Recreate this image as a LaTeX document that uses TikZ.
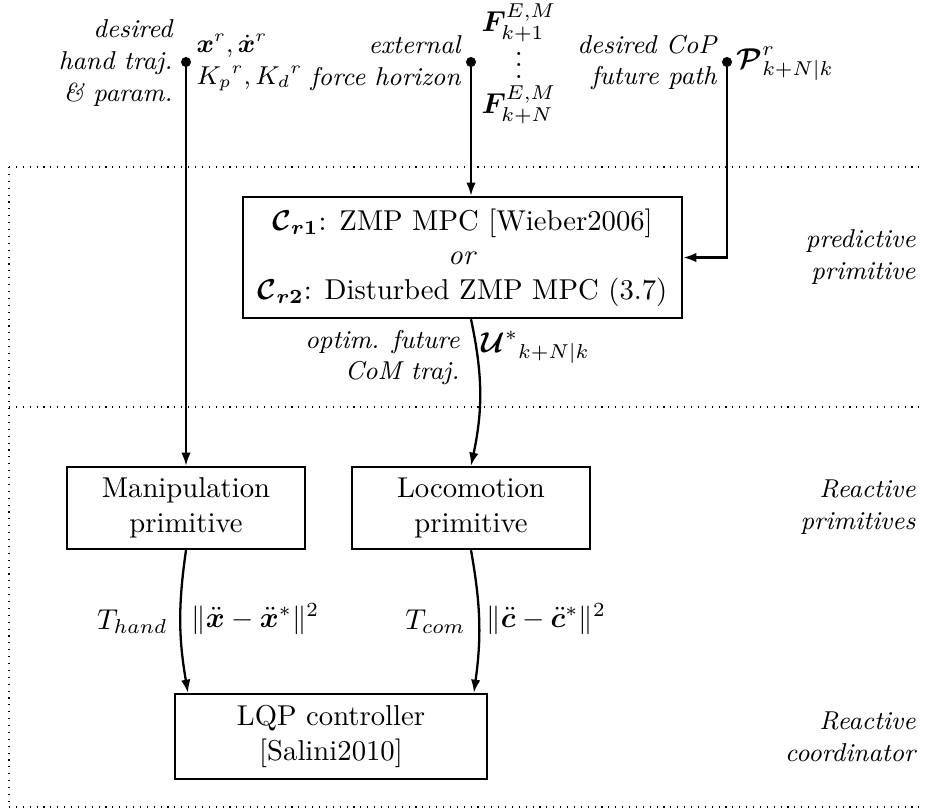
\documentclass[tikz,border=0pt]{standalone}
\usepackage{amsmath,amssymb,bm}
\usetikzlibrary{arrows.meta}
\begin{document}
\begin{tikzpicture}[x=0.3484pt,y=-0.3484pt,
  box/.style={draw,thick,align=center,inner sep=2pt},
  arr/.style={thick,-{Latex[length=4.6pt,width=3.3pt]}},
  lbl/.style={inner sep=0pt},
  lblr/.style={lbl,anchor=east,align=right,font=\small\itshape},
  sep/.style={dotted,thin},
  dot/.style={fill=black}]
\useasboundingbox (0,0) rectangle (925,809);
% dotted frame
\draw[sep] (9,167) -- (925,167);
\draw[sep] (9,407) -- (925,407);
\draw[sep] (9,807) -- (925,807);
\draw[sep] (9,167) -- (9,807);
% boxes
\node[box,minimum width=153pt,minimum height=42.2pt] (mpc) at (462.5,257.5)
  {$\bm{\mathcal{C}_{r1}}$: ZMP MPC [Wieber2006]\\ \textit{or}\\ $\bm{\mathcal{C}_{r2}}$: Disturbed ZMP MPC (3.7)};
\node[box,minimum width=82.9pt,minimum height=28.6pt] (manip) at (186,508) {Manipulation\\primitive};
\node[box,minimum width=82.9pt,minimum height=28.6pt] (loco) at (471,508) {Locomotion\\primitive};
\node[box,minimum width=108.7pt,minimum height=29.6pt] (lqp) at (331,736.5) {LQP controller\\{[Salini2010]}};
% input dots
\coordinate (hd) at (186,62);
\coordinate (fd) at (471,62);
\coordinate (cd) at (727,62);
\fill[dot] (hd) circle (1.75pt);
\fill[dot] (fd) circle (1.75pt);
\fill[dot] (cd) circle (1.75pt);
% input labels
\node[lblr] (hl) at (173,63) {desired\\hand traj.\\\& param.};
\node[lbl,anchor=west,align=left,font=\small] (hm) at (196,62.5) {$\bm{x}^r,\dot{\bm{x}}^r$\\ ${K_p}^r,{K_d}^r$};
\node[lblr] (fl) at (461,63) {external\\force horizon};
\node[lbl,anchor=west] (fm) at (481,64) {$\begin{array}{@{}c@{}}\bm{F}^{E,M}_{k+1}\\[-2.5pt] \vdots\\[-1pt] \bm{F}^{E,M}_{k+N}\end{array}$};
\node[lblr] (cl) at (717,62.5) {desired CoP\\future path};
\node[lbl,anchor=west] (cm) at (736,64) {$\bm{\mathcal{P}}^r_{k+N|k}$};
% layer labels
\node[lblr] (l1) at (916,257) {predictive\\primitive};
\node[lblr] (l2) at (916,507) {Reactive\\primitives};
\node[lblr] (l3) at (916,737) {Reactive\\coordinator};
% connectors
\draw[arr] (hd) -- (manip.north);
\draw[arr] (fd) -- (mpc.north -| fd);
\draw[arr] (cd) |- (mpc.east);
\draw[arr] (mpc.south -| loco.north) to[bend left=12] (loco.north);
\draw[arr] (manip.south) to[bend right=9] ([xshift=0.7pt]lqp.north -| manip.south);
\draw[arr] (loco.south) to[bend left=9] ([xshift=1pt]lqp.north -| loco.south);
% connector labels
\node[lblr] (ol) at (460,357.5) {optim. future\\CoM traj.};
\node[lbl,anchor=west] (om) at (481,347) {${\bm{\mathcal{U}}^*}_{k+N|k}$};
\node[lbl,anchor=east] (th) at (168,622) {$T_{hand}$};
\node[lbl,anchor=west] (tn) at (191,619) {$\|\ddot{\bm{x}}-\ddot{\bm{x}}^*\|^2$};
\node[lbl,anchor=east] (tc) at (466,622) {$T_{com}$};
\node[lbl,anchor=west] (cn) at (486,619) {$\|\ddot{\bm{c}}-\ddot{\bm{c}}^*\|^2$};
\end{tikzpicture}
\end{document}
